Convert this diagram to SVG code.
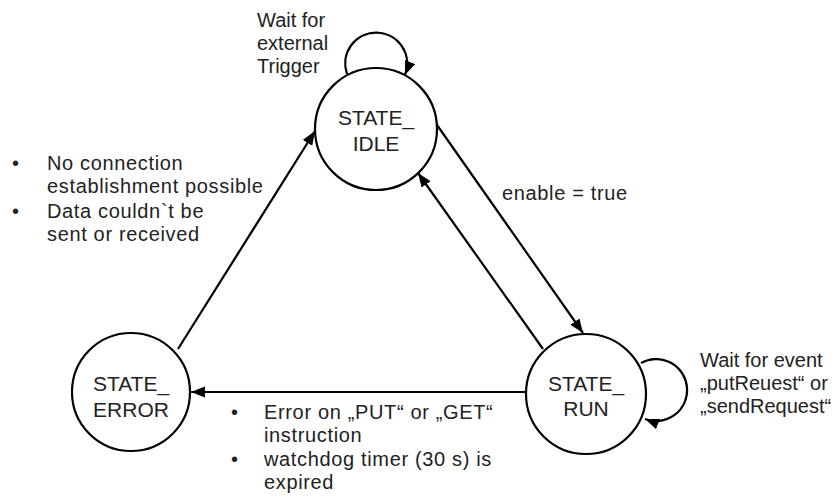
<svg xmlns="http://www.w3.org/2000/svg" width="835" height="500" viewBox="0 0 835 500">
<defs>
<marker id="arr" markerUnits="userSpaceOnUse" markerWidth="16" markerHeight="12" refX="14" refY="5.5" orient="auto">
<path d="M0,0 L14,5.5 L0,11 z" fill="#000"/>
</marker>
<style>
.st{fill:#fff;stroke:#000;stroke-width:2.2}
.c{fill:none;stroke:#000;stroke-width:2.2;marker-end:url(#arr)}
.nt{font-family:"Liberation Sans",Arial,sans-serif;font-size:21px;fill:#222;text-anchor:middle}
.lb{font-family:"Liberation Sans",Arial,sans-serif;font-size:20px;fill:#222}
.sp{letter-spacing:0.65px}
</style>
</defs>
<rect width="835" height="500" fill="#fff"/>
<g id="connectors">
<path class="c" d="M347 74 A31 31 0 1 1 405 75"/>
<path class="c" d="M437 125 L583 333"/>
<path class="c" d="M543 349 L418 173"/>
<path class="c" d="M526 392 L191 392"/>
<path class="c" d="M178 349 L315 131"/>
<path class="c" d="M641 363 A31 31 0 1 1 645 419"/>
</g>
<g id="idle">
<circle class="st" cx="376" cy="129" r="61"/>
<text class="nt" x="376" y="125">STATE_</text>
<text class="nt" x="376" y="151">IDLE</text>
</g>
<g id="error">
<circle class="st" cx="131" cy="392" r="59"/>
<text class="nt" x="131" y="391">STATE_</text>
<text class="nt" x="131" y="417">ERROR</text>
</g>
<g id="run">
<circle class="st" cx="586" cy="394" r="60"/>
<text class="nt" x="586" y="391">STATE_</text>
<text class="nt" x="586" y="416">RUN</text>
</g>
<g id="labels">
<text class="lb" x="257" y="27">Wait for</text>
<text class="lb" x="257" y="50">external</text>
<text class="lb" x="257" y="73">Trigger</text>
<text class="lb" x="12" y="170">•</text>
<text class="lb sp" x="47" y="170">No connection</text>
<text class="lb sp" x="47" y="193">establishment possible</text>
<text class="lb" x="12" y="218">•</text>
<text class="lb sp" x="47" y="218">Data couldn`t be</text>
<text class="lb sp" x="47" y="241">sent or received</text>
<text class="lb sp" x="502" y="200">enable = true</text>
<text class="lb" x="231" y="419">•</text>
<text class="lb sp" x="264" y="419">Error on „PUT“ or „GET“</text>
<text class="lb sp" x="264" y="442">instruction</text>
<text class="lb" x="231" y="466">•</text>
<text class="lb sp" x="264" y="466">watchdog timer (30 s) is</text>
<text class="lb sp" x="264" y="489">expired</text>
<text class="lb" x="700" y="367">Wait for event</text>
<text class="lb" x="700" y="390">„putReuest“ or</text>
<text class="lb" x="700" y="413">„sendRequest“</text>
</g>
</svg>
